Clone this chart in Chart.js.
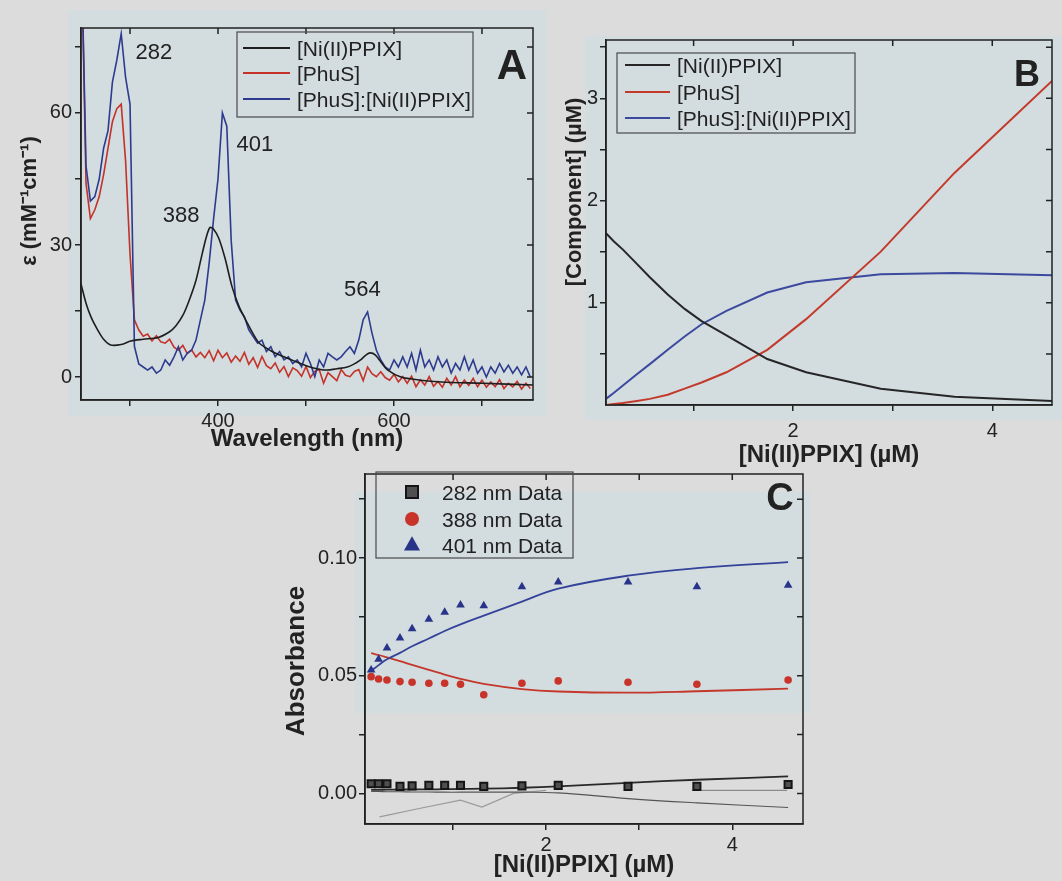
<!DOCTYPE html>
<html>
<head>
<meta charset="utf-8">
<script src="https://cdn.jsdelivr.net/npm/chart.js@4/dist/chart.umd.min.js"></script>
<style>
  body { margin: 0; background: #dcdcdc; }
  #page { position: relative; width: 1062px; height: 881px; overflow: hidden; background: #dcdcdc; }
  .tint { position: absolute; background: #d3dcdf; }
  .box { position: absolute; }
</style>
</head>
<body>
<div id="page">
  <div class="tint" style="left:68px;top:10px;width:478px;height:406px"></div>
  <div class="tint" style="left:585px;top:36px;width:477px;height:384px"></div>
  <div class="tint" style="left:355px;top:492px;width:455px;height:221px"></div>
  <div class="box" style="left:0;top:0"><canvas id="chartA" width="560" height="470"></canvas></div>
  <div class="box" style="left:560px;top:0"><canvas id="chartB" width="502" height="480"></canvas></div>
  <div class="box" style="left:270px;top:460px"><canvas id="chartC" width="560" height="421"></canvas></div>
</div>
<script>
// ---- panel A: spectra ----
const waveBlack = [244, 250, 256, 263, 270, 278, 290, 301, 315, 332, 345, 352, 360, 367, 375, 382, 387, 391, 395, 401,
  408, 416, 424, 432, 440, 447, 460, 470, 485, 500, 515, 524, 535, 547, 555, 562, 568, 573, 579, 586,
  593, 608, 630, 654, 700, 758];
const nippixA = [21.4, 16.8, 13.5, 10.8, 8.6, 7.3, 7.4, 8.2, 8.6, 9.0, 10.3, 11.6, 14, 17.3, 22, 28, 32, 34, 33.6, 31.5,
  27, 20.5, 16, 12.8, 9.8, 7.7, 6, 5, 3.8, 2.6, 1.8, 1.6, 1.9, 2.3, 3.0, 3.9, 5.0, 5.5, 5.0, 3.2,
  1.6, 0, -0.7, -1.1, -1.4, -1.8];

const waveNoisy = [245, 250, 255, 260, 265, 270, 275, 280, 285, 290,
  295, 300, 305, 310, 315, 320, 325, 330, 335, 340,
  345, 350, 355, 360, 365, 370, 375, 380, 385, 390,
  395, 400, 405, 410, 415, 420, 425, 430, 435, 440,
  445, 450, 455, 460, 465, 470, 475, 480, 485, 490,
  495, 500, 505, 510, 515, 520, 525, 530, 535, 540,
  545, 550, 555, 560, 565, 570, 575, 580, 585, 590,
  595, 600, 605, 610, 615, 620, 625, 630, 635, 640,
  645, 650, 655, 660, 665, 670, 675, 680, 685, 690,
  695, 700, 705, 710, 715, 720, 725, 730, 735, 740,
  745, 750, 755];
const phusA = [95, 44, 36, 38, 41, 46, 52, 58, 61, 62,
  49, 28, 13, 10.7, 9.3, 9.8, 8.2, 9.4, 8.0, 7.7,
  8.6, 6.8, 6.1, 7.2, 5.4, 6.2, 4.6, 5.6, 4.4, 6.0,
  3.7, 6.1, 4.4, 5.5, 3.4, 4.8, 3.6, 5.6, 2.9, 4.4,
  2.2, 4.7, 2.6, 1.9, 3.2, 1.1, 2.4, 0.1, 2.1, 1.5,
  0.2, 2.4, -0.1, 1.3, 1.7, -1.4, 1.0, 0.1, -0.8, 1.7,
  0.4, 0.1, 1.3, 1.7, -0.8, 2.3, 0.8, 0.1, 1.2, -0.1,
  -0.7, 0.6, -1.1, 0.1, -1.4, 0.2, -2.2, -0.6, -1.8, 0.1,
  -2.1, -1.0, -2.3, -0.3, -1.8, 0.1, -2.2, -0.7, -1.9, -0.3,
  -2.2, -0.7, -2.3, -1.1, -2.2, -0.6, -2.6, -1.4, -2.2, -1.0,
  -2.7, -1.4, -2.6];
const complexA = [95, 48, 40, 41, 45, 52, 56, 67, 72, 78,
  68, 62, 7, 3, 2.3, 1.6, 2.3, 0.9, 1.6, 3.9,
  2.7, 4.6, 6.9, 3.9, 5.4, 6.1, 8.4, 13, 17.5, 26,
  36, 45, 60, 57, 31, 17.5, 15.2, 13.7, 10.7, 9.2,
  7.7, 8.4, 5.8, 6.9, 4.6, 5.8, 3.9, 4.6, 3.1, 3.9,
  2.3, 5.4, 3.1, 0.1, 3.9, 2.3, 5.4, 4.6, 3.9, 4.6,
  5.8, 6.9, 5.4, 8.4, 13, 14.8, 10, 6.1, 3.9, 2.3,
  1.6, 3.9, 2.3, 4.6, 2.3, 5.4, 1.6, 6.1, 2.3, 3.9,
  1.6, 4.6, 2.3, 3.9, 0.9, 3.1, 1.6, 4.6, 1.6, 3.9,
  0.9, 2.3, 0, 2.3, 0.9, 3.1, 1.2, 2.7, 0.9, 2.3,
  0.5, 2.3, 0];

const aTicksX = [300, 400, 500, 600, 700];
const aLabelsX = ['', '400', '', '600', ''];
const aTicksY = [0, 15, 30, 45, 60, 75];
const aLabelsY = ['0', '', '30', '', '60', ''];
const peakText = ['282', '388', '401', '564'];
const peakX = [327, 358, 442, 564];
const peakY = [73.6, 36.6, 52.7, 19.8];

// ---- panel B: simulated species ----
const concB = [0.12, 0.2, 0.29, 0.43, 0.56, 0.74, 0.91, 1.08, 1.33, 1.74, 2.13, 2.88, 3.62, 4.6];
const nippixB = [1.68, 1.60, 1.52, 1.38, 1.25, 1.08, 0.94, 0.82, 0.68, 0.45, 0.32, 0.16, 0.08, 0.04];
const phusB = [0.0, 0.01, 0.02, 0.04, 0.06, 0.1, 0.16, 0.22, 0.32, 0.54, 0.84, 1.5, 2.27, 3.17];
const complexB = [0.06, 0.12, 0.19, 0.3, 0.4, 0.54, 0.67, 0.79, 0.92, 1.1, 1.2, 1.28, 1.29, 1.27];
const bTicksX = [1, 2, 3, 4];
const bLabelsX = ['', '2', '', '4'];
const bTicksY = [0.5, 1, 1.5, 2, 2.5, 3, 3.5];
const bLabelsY = ['', '1', '', '2', '', '3', ''];

// ---- panel C: absorbance titration ----
const concC = [0.12, 0.2, 0.29, 0.43, 0.56, 0.74, 0.91, 1.08, 1.33, 1.74, 2.13, 2.88, 3.62, 4.6];
const abs282 = [0.0041, 0.0041, 0.0041, 0.0030, 0.0032, 0.0034, 0.0034, 0.0034, 0.0030, 0.0032, 0.0034, 0.0030, 0.0030, 0.0038];
const abs388 = [0.0496, 0.0486, 0.0482, 0.0475, 0.0472, 0.0468, 0.0468, 0.0464, 0.0419, 0.0468, 0.0478, 0.0472, 0.0464, 0.0482];
const abs401 = [0.0524, 0.0570, 0.0618, 0.0660, 0.0700, 0.0740, 0.0770, 0.0800, 0.0797, 0.0878, 0.0898, 0.0898, 0.0878, 0.0884];
const fit282 = [0.0015, 0.0015, 0.0016, 0.0016, 0.0017, 0.0017, 0.0018, 0.0019, 0.0020, 0.0024, 0.0030, 0.0045, 0.0058, 0.0072];
const base282 = [0.0008, 0.0008, 0.0007, 0.0007, 0.0006, 0.0006, 0.0005, 0.0005, 0.0005, 0.0005, 0.0002, -0.0022, -0.0040, -0.0060];
const fit388 = [0.0596, 0.0588, 0.0578, 0.0562, 0.0546, 0.0525, 0.0505, 0.0487, 0.0465, 0.0443, 0.0433, 0.0428, 0.0434, 0.0445];
const fit401 = [0.0520, 0.0545, 0.0570, 0.0597, 0.0625, 0.0658, 0.0690, 0.0718, 0.0755, 0.0815, 0.0870, 0.0925, 0.0957, 0.0983];
const driftX = [0.21, 0.65, 1.08, 1.31, 1.65, 2.0];
const driftY = [-0.0100, -0.0063, -0.0029, -0.0058, 0.0000, 0.0013];
const flatX = [3.57, 4.59];
const flatY = [0.0013, 0.0013];
const cTicksX = [1, 2, 3, 4];
const cLabelsX = ['', '2', '', '4'];
const cTicksY = [0, 0.025, 0.05, 0.075, 0.1, 0.125];
const cLabelsY = ['0.00', '', '0.05', '', '0.10', ''];

const INK = '#222222';
const BLACK = '#1e1e1e', RED = '#c4322a', BLUE = '#2d3b8f';
const FONT = '"Liberation Sans", Arial, sans-serif';
Chart.defaults.font.family = FONT;
Chart.defaults.color = INK;

const pts = (xs, ys) => xs.map((x, i) => ({ x: x, y: ys[i] }));

function axis(min, max, ticks, labels, size, pad, title) {
  return {
    type: 'linear', min: min, max: max,
    afterBuildTicks: s => { s.ticks = ticks.map(v => ({ value: v })); },
    afterFit: s => { if (s.isHorizontal()) s.height = size; else s.width = size; },
    ticks: { autoSkip: false, maxRotation: 0, padding: pad, color: INK, font: { size: 20 },
      callback: (v, i) => labels[i] },
    grid: { drawOnChartArea: false, drawTicks: true, tickLength: 6, color: INK, lineWidth: 1.5 },
    border: { display: true, color: INK, width: 1.5 },
    title: title || { display: false }
  };
}

// box round the plot plus inward ticks on top and right
const frame = {
  id: 'frame',
  afterDatasetsDraw(chart) {
    const { ctx, chartArea: a, scales } = chart;
    ctx.save();
    ctx.strokeStyle = INK;
    ctx.lineWidth = 1.5;
    ctx.strokeRect(a.left, a.top, a.right - a.left, a.bottom - a.top);
    ctx.beginPath();
    scales.x.ticks.forEach(t => {
      const px = scales.x.getPixelForValue(t.value);
      ctx.moveTo(px, a.top); ctx.lineTo(px, a.top + 6);
    });
    scales.y.ticks.forEach(t => {
      const py = scales.y.getPixelForValue(t.value);
      ctx.moveTo(a.right, py); ctx.lineTo(a.right - 6, py);
    });
    ctx.stroke();
    ctx.restore();
  }
};

function notes(items) {
  return {
    id: 'notes',
    afterDraw(chart) {
      const ctx = chart.ctx;
      items.forEach(n => {
        let x = n.x, y = n.y;
        if (n.data) { x = chart.scales.x.getPixelForValue(n.x); y = chart.scales.y.getPixelForValue(n.y); }
        ctx.save();
        ctx.translate(x, y);
        if (n.rot) ctx.rotate(n.rot);
        ctx.font = n.font;
        ctx.fillStyle = INK;
        ctx.textAlign = 'center';
        ctx.textBaseline = 'middle';
        ctx.fillText(n.text, 0, 0);
        ctx.restore();
      });
    }
  };
}

function marker(ctx, style, x, y, r, fill, stroke) {
  ctx.fillStyle = fill;
  ctx.strokeStyle = stroke;
  ctx.lineWidth = 2;
  ctx.beginPath();
  if (style === 'rect') {
    ctx.rect(x - r, y - r, 2 * r, 2 * r);
  } else if (style === 'triangle') {
    ctx.moveTo(x, y - r * 1.1);
    ctx.lineTo(x + r, y + r * 0.7);
    ctx.lineTo(x - r, y + r * 0.7);
    ctx.closePath();
  } else {
    ctx.arc(x, y, r, 0, Math.PI * 2);
  }
  ctx.fill();
  if (style === 'rect') ctx.stroke();
}

function boxLegend(cfg) {
  return {
    id: 'boxLegend',
    afterDraw(chart) {
      const ctx = chart.ctx;
      const [l, t, r, b] = cfg.box;
      ctx.save();
      ctx.strokeStyle = '#4a4a4a';
      ctx.lineWidth = 1.2;
      ctx.strokeRect(l, t, r - l, b - t);
      cfg.items.forEach((di, k) => {
        const ds = chart.data.datasets[di];
        const y = cfg.rows[k];
        if (cfg.markerX) {
          marker(ctx, ds.pointStyle, cfg.markerX, y, cfg.markerR[k], ds.pointBackgroundColor, ds.pointBorderColor);
        } else {
          ctx.strokeStyle = ds.borderColor;
          ctx.lineWidth = 2;
          ctx.beginPath();
          ctx.moveTo(cfg.lineX[0], y); ctx.lineTo(cfg.lineX[1], y);
          ctx.stroke();
        }
        ctx.font = cfg.font;
        ctx.fillStyle = INK;
        ctx.textAlign = 'left';
        ctx.textBaseline = 'middle';
        ctx.fillText(ds.label, cfg.textX, y + 2);
      });
      ctx.restore();
    }
  };
}

const common = { responsive: false, animation: false, events: [], devicePixelRatio: 1 };
const bold = size => ({ size: size, weight: 'bold' });

// ---------- A ----------
new Chart(document.getElementById('chartA'), {
  type: 'line',
  data: {
    datasets: [
      { label: '[Ni(II)PPIX]', data: pts(waveBlack, nippixA), borderColor: BLACK, borderWidth: 1.6,
        pointRadius: 0, tension: 0.3, order: 0 },
      { label: '[PhuS]', data: pts(waveNoisy, phusA), borderColor: RED, borderWidth: 1.6,
        pointRadius: 0, tension: 0, order: 2 },
      { label: '[PhuS]:[Ni(II)PPIX]', data: pts(waveNoisy, complexA), borderColor: BLUE, borderWidth: 1.6,
        pointRadius: 0, tension: 0, order: 1 }
    ]
  },
  options: Object.assign({}, common, {
    layout: { padding: { top: 28, right: 27, left: 0, bottom: 0 } },
    plugins: { legend: { display: false }, tooltip: { enabled: false } },
    scales: {
      x: axis(244.3, 758, aTicksX, aLabelsX, 70, 3,
        { display: true, text: 'Wavelength (nm)', color: INK, font: bold(24), padding: { top: 0, bottom: 16 } }),
      y: axis(-5.2, 79.3, aTicksY, aLabelsY, 81, 3)
    }
  }),
  plugins: [frame,
    boxLegend({ box: [237, 32, 473, 117], rows: [48, 73, 99], lineX: [243, 290], textX: 297,
      font: '21px ' + FONT, items: [0, 1, 2] }),
    notes(peakText.map((t, i) => ({ text: t, x: peakX[i], y: peakY[i], data: true, font: '22px ' + FONT }))
      .concat([
        { text: 'A', x: 512, y: 67, font: 'bold 42px ' + FONT },
        { text: 'ε (mM⁻¹cm⁻¹)', x: 30, y: 201, rot: -Math.PI / 2, font: 'bold 22px ' + FONT }
      ]))
  ]
});

// ---------- B ----------
new Chart(document.getElementById('chartB'), {
  type: 'line',
  data: {
    datasets: [
      { label: '[Ni(II)PPIX]', data: pts(concB, nippixB), borderColor: '#262626', borderWidth: 2, pointRadius: 0, tension: 0 },
      { label: '[PhuS]', data: pts(concB, phusB), borderColor: '#c33a2b', borderWidth: 2, pointRadius: 0, tension: 0 },
      { label: '[PhuS]:[Ni(II)PPIX]', data: pts(concB, complexB), borderColor: '#3b4a9e', borderWidth: 2, pointRadius: 0, tension: 0 }
    ]
  },
  options: Object.assign({}, common, {
    layout: { padding: { top: 40, right: 10, left: 0, bottom: 0 } },
    plugins: { legend: { display: false }, tooltip: { enabled: false } },
    scales: {
      x: axis(0.12, 4.6, bTicksX, bLabelsX, 75, 8,
        { display: true, text: '[Ni(II)PPIX] (µM)', color: INK, font: bold(24), padding: { top: 0, bottom: 10 } }),
      y: axis(0, 3.57, bTicksY, bLabelsY, 46, 2)
    }
  }),
  plugins: [frame,
    boxLegend({ box: [57, 53, 295, 133], rows: [65, 92, 118], lineX: [65, 110], textX: 117,
      font: '21px ' + FONT, items: [0, 1, 2] }),
    notes([
      { text: 'B', x: 467, y: 76, font: 'bold 36px ' + FONT },
      { text: '[Component] (µM)', x: 15, y: 192, rot: -Math.PI / 2, font: 'bold 22px ' + FONT }
    ])
  ]
});

// ---------- C ----------
new Chart(document.getElementById('chartC'), {
  type: 'line',
  data: {
    datasets: [
      { label: '282 nm Data', data: pts(concC, abs282), showLine: false, pointStyle: 'rect', pointRadius: 5,
        pointBackgroundColor: '#505050', pointBorderColor: '#151515', pointBorderWidth: 2 },
      { label: '388 nm Data', data: pts(concC, abs388), showLine: false, pointStyle: 'circle', pointRadius: 3.8,
        pointBackgroundColor: '#c8342a', pointBorderColor: '#c8342a', pointBorderWidth: 0 },
      { label: '401 nm Data', data: pts(concC, abs401), showLine: false, pointStyle: 'triangle', pointRadius: 5,
        pointBackgroundColor: '#27348a', pointBorderColor: '#27348a', pointBorderWidth: 0 },
      { label: 'fit 401', data: pts(concC, fit401), borderColor: '#34439a', borderWidth: 1.8, pointRadius: 0, tension: 0.4 },
      { label: 'fit 388', data: pts(concC, fit388), borderColor: '#c4382c', borderWidth: 1.8, pointRadius: 0, tension: 0.4 },
      { label: 'fit 282', data: pts(concC, fit282), borderColor: '#2a2a2a', borderWidth: 1.8, pointRadius: 0, tension: 0.4 },
      { label: 'base 282', data: pts(concC, base282), borderColor: '#555555', borderWidth: 1.2, pointRadius: 0, tension: 0.4 },
      { label: 'drift', data: pts(driftX, driftY), borderColor: '#9a9a9a', borderWidth: 1.2, pointRadius: 0, tension: 0 },
      { label: 'flat', data: pts(flatX, flatY), borderColor: '#8a8a8a', borderWidth: 1.2, pointRadius: 0, tension: 0 }
    ]
  },
  options: Object.assign({}, common, {
    layout: { padding: { top: 10, right: 27, left: 0, bottom: 0 } },
    plugins: { legend: { display: false }, tooltip: { enabled: false } },
    scales: {
      x: axis(0.054, 4.76, cTicksX, cLabelsX, 57, 3,
        { display: true, text: '[Ni(II)PPIX] (µM)', color: INK, font: bold(24), padding: { top: 0, bottom: 1 } }),
      y: axis(-0.013, 0.1357, cTicksY, cLabelsY, 95, 2)
    }
  }),
  plugins: [frame,
    boxLegend({ box: [106, 12, 303, 98], rows: [32, 59, 85], markerX: 142, markerR: [6, 7, 8], textX: 172,
      font: '21px ' + FONT, items: [0, 1, 2] }),
    notes([
      { text: 'C', x: 510, y: 40, font: 'bold 38px ' + FONT },
      { text: 'Absorbance', x: 27, y: 201, rot: -Math.PI / 2, font: 'bold 26px ' + FONT }
    ])
  ]
});
</script>
</body>
</html>
